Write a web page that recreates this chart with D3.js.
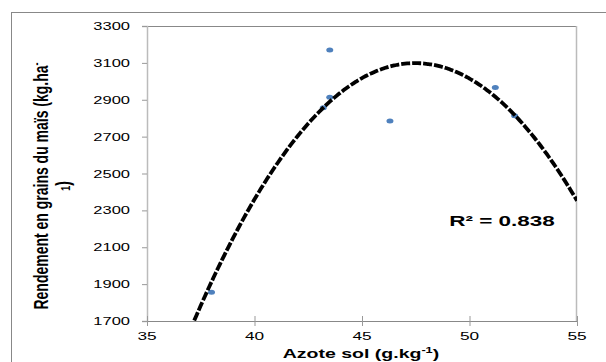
<!DOCTYPE html>
<html>
<head>
<meta charset="utf-8">
<script src="https://cdn.jsdelivr.net/npm/d3@7"></script>
<style>
  html, body { margin: 0; padding: 0; background: #fff; }
  svg { display: block; font-family: "Liberation Sans", Arial, sans-serif; }
</style>
</head>
<body>
<div id="chart"></div>
<script>
// Observations: soil nitrogen (g/kg) vs maize grain yield (kg/ha)
const azote = [38.0, 43.2, 43.5, 43.5, 46.3, 51.2, 52.1];
const rendement = [1856, 2857, 2913, 3170, 2785, 2967, 2813];
// polynomial trend (order 2): a*x^2 + b*x + c
const trendCoef = [-13.2, 1253.5, -26660];
const xTicks = [35, 40, 45, 50, 55];
const yTicks = [1700, 1900, 2100, 2300, 2500, 2700, 2900, 3100, 3300];
const r2Label = 'R² = 0.838';

const width = 606, height = 362;
const margin = { top: 26, right: 29, bottom: 41, left: 147 };
const sx = 1.5; // the picture is stretched horizontally

const svg = d3.select('#chart').append('svg')
    .attr('width', width)
    .attr('height', height);

// outer chart frame
svg.append('rect')
    .attr('x', 11.5).attr('y', 12.5)
    .attr('width', 700).attr('height', 400)
    .attr('fill', 'none')
    .attr('stroke', '#888');

const x = d3.scaleLinear().domain([35, 55]).range([margin.left, width - margin.right]);
const y = d3.scaleLinear().domain([1700, 3300]).range([height - margin.bottom, margin.top]);

// plot box (top + right)
svg.append('line')
    .attr('x1', x(35)).attr('x2', x(55))
    .attr('y1', y(3300) + 0.5).attr('y2', y(3300) + 0.5)
    .attr('stroke', '#888');
svg.append('line')
    .attr('x1', x(55) - 0.5).attr('x2', x(55) - 0.5)
    .attr('y1', y(3300)).attr('y2', y(1700))
    .attr('stroke', '#bbb').attr('stroke-width', 1.5);

// y axis
const yAxis = svg.append('g')
    .attr('transform', `translate(${x(35)}, 0)`)
    .call(d3.axisLeft(y).tickValues(yTicks).tickSize(5).tickFormat(''));
yAxis.select('.domain').attr('stroke', '#bbb').attr('stroke-width', 1.5);
yAxis.selectAll('.tick line').attr('stroke', '#999');

// x axis (ticks cross the line)
const xAxis = svg.append('g')
    .attr('transform', `translate(0, ${y(1700)})`)
    .call(d3.axisBottom(x).tickValues(xTicks).tickSize(5).tickSizeOuter(0).tickFormat(''));
xAxis.select('.domain').attr('stroke', '#888');
xAxis.selectAll('.tick line').attr('y1', -5).attr('stroke', '#999');

// stretched text helper
function label(sel, tx, ty, txt, anchor, size, weight) {
    return sel.append('text')
        .attr('transform', `translate(${tx}, ${ty}) scale(${sx}, 1)`)
        .attr('text-anchor', anchor)
        .attr('font-size', size)
        .attr('font-weight', weight || 'normal')
        .attr('fill', '#000')
        .text(txt);
}

yTicks.forEach(t => label(svg, 130, y(t) + 4, t, 'end', 11));
xTicks.forEach(t => label(svg, x(t), y(1700) + 18.5, t, 'middle', 11.5));

// x axis title
const xt = label(svg, 361, 358, '', 'middle', 13, 'bold');
xt.append('tspan').text('Azote sol (g.kg');
xt.append('tspan').attr('font-size', 8.5).attr('dy', -5).text('-1');
xt.append('tspan').attr('dy', 5).text(')');

// y axis title (two lines, rotated)
const yt = svg.append('text')
    .attr('transform', `translate(48, 186) scale(${sx}, 1) rotate(-90)`)
    .attr('text-anchor', 'middle')
    .attr('font-size', 14)
    .attr('font-weight', 'bold');
yt.append('tspan').attr('x', 0).attr('y', 0).text('Rendement en grains du maïs (kg.ha');
yt.append('tspan').attr('font-size', 9).attr('dy', -5).text('-');
yt.append('tspan').attr('x', 0).attr('y', 15).attr('font-size', 9).text('1');
yt.append('tspan').attr('dy', 0).text(')');

// points
svg.append('g').selectAll('ellipse')
    .data(azote)
    .join('ellipse')
    .attr('cx', (d, i) => x(d))
    .attr('cy', (d, i) => y(rendement[i]))
    .attr('rx', 3.5).attr('ry', 2.5)
    .attr('fill', '#4f81bd');

// trend line
svg.append('clipPath').attr('id', 'plot')
    .append('rect')
    .attr('x', x(35)).attr('y', y(3300))
    .attr('width', x(55) - x(35)).attr('height', y(1700) - y(3300));

const poly = v => trendCoef[0] * v * v + trendCoef[1] * v + trendCoef[2];
const curveX = d3.range(36.8, 55.05, 0.1);
svg.append('path')
    .datum(curveX)
    .attr('clip-path', 'url(#plot)')
    .attr('fill', 'none')
    .attr('stroke', '#000')
    .attr('stroke-width', 3.8)
    .attr('stroke-linecap', 'butt')
    .attr('stroke-dasharray', '9,2')
    .attr('d', d3.line()
        .curve(d3.curveBasis)
        .x(d => x(d))
        .y(d => y(poly(d))));

// R² label
label(svg, 502, 226, r2Label, 'middle', 15, 'bold');
</script>
</body>
</html>
